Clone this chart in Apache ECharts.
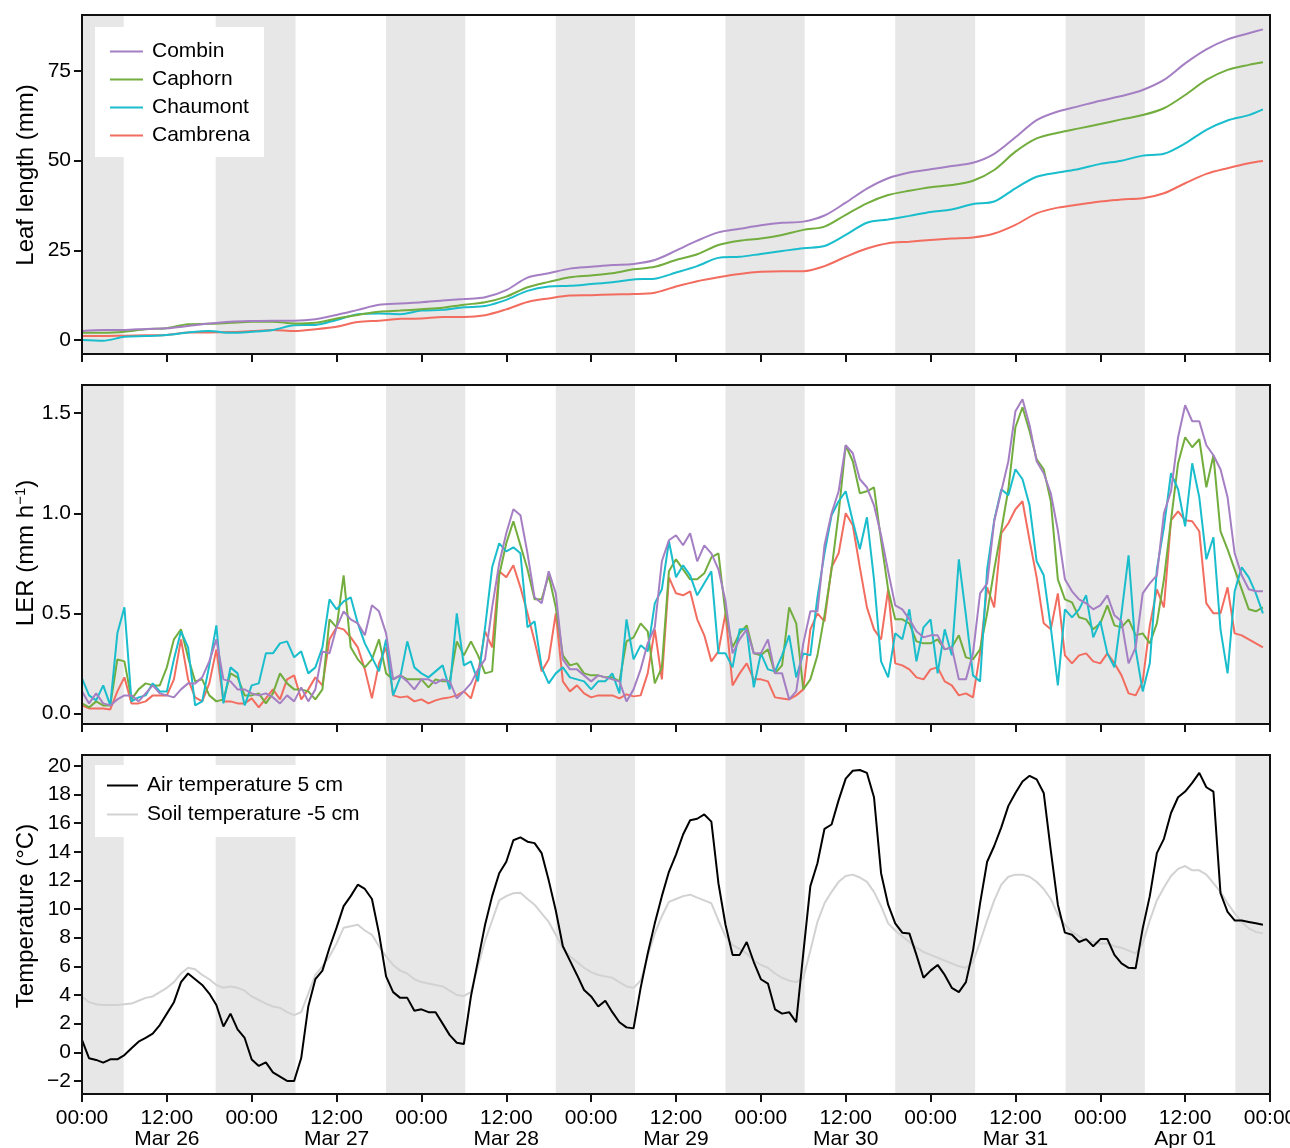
<!DOCTYPE html>
<html>
<head>
<meta charset="utf-8">
<script src="https://cdn.jsdelivr.net/npm/echarts@6/dist/echarts.min.js"></script>
<style>
html, body { margin: 0; padding: 0; background: #fff; }
#main { width: 1290px; height: 1148px; }
</style>
</head>
<body>
<div id="main"></div>
<script>
// x axis: hours since Mar 26 00:00
var dayLabels = ['Mar 26', 'Mar 27', 'Mar 28', 'Mar 29', 'Mar 30', 'Mar 31', 'Apr 01'];
var nights = [[0, 5.9], [18.9, 30.2], [43, 54.2], [67, 78.2], [91, 102.2], [115, 126.3], [139.1, 150.3], [163.1, 168]];

// leaf length (mm), read every 3 h
var llHours = [0,3,6,9,12,15,18,21,24,27,30,33,36,39,42,45,48,51,54,57,60,63,66,69,72,75,78,81,84,87,90,93,96,99,102,105,108,111,114,117,120,123,126,129,132,135,138,141,144,147,150,153,156,159,162,165,167];
var llCombin = [2.5,2.8,2.8,3.1,3.25,3.9,4.6,5.1,5.3,5.4,5.4,5.8,7.0,8.4,9.8,10.2,10.5,11.0,11.4,11.9,13.9,17.4,18.6,19.9,20.4,20.9,21.2,22.3,24.9,27.7,30.0,31.0,32.0,32.7,33.0,34.7,38.3,42.2,45.1,46.7,47.6,48.5,49.4,51.9,56.5,61.3,63.7,65.2,66.7,68.0,69.7,72.5,77.1,81.0,83.8,85.5,86.6];
var llCaphorn = [2.0,2.0,2.3,3.0,3.3,4.4,4.5,4.8,5.1,5.1,4.6,4.8,6.0,7.0,7.9,8.2,8.6,9.0,9.85,10.5,12.1,14.7,16.2,17.5,18.0,18.6,19.7,20.4,22.3,23.9,26.5,27.7,28.3,29.3,30.7,31.6,34.9,38.1,40.4,41.6,42.6,43.2,44.4,47.4,52.5,56.2,57.8,59.0,60.2,61.5,62.7,64.6,68.3,72.5,75.3,76.7,77.4];
var llChaumont = [0,-0.2,0.9,1.1,1.4,2.1,2.5,2.0,2.3,2.8,4.1,4.2,5.6,7.2,7.4,7.2,8.2,8.4,9.1,9.5,11.2,13.7,14.9,15.1,15.6,16.1,16.9,17.1,18.8,20.6,22.9,23.2,24.0,24.8,25.6,26.2,29.3,32.7,33.6,34.6,35.7,36.4,37.9,38.6,42.3,45.5,46.7,47.7,49.1,50.0,51.4,51.9,54.8,58.6,61.2,62.7,64.3];
var llCambrena = [1.1,1.1,1.2,1.3,1.4,2.1,2.1,2.2,2.5,2.8,2.5,3.0,3.7,5.0,5.4,5.9,6.0,6.4,6.4,6.9,8.55,10.6,11.6,12.4,12.5,12.7,12.8,13.2,14.9,16.4,17.5,18.4,19.0,19.2,19.2,20.6,23.2,25.5,27.0,27.4,27.9,28.3,28.6,29.7,32.1,35.3,36.9,37.8,38.6,39.2,39.5,40.9,43.7,46.3,47.9,49.3,49.9];

// LER (mm h-1), hourly
var lerCombin = [
  .11,.05,.10,.05,.04,.07,.09,.09,.06,.10,.14,.10,
  .09,.08,.12,.15,.15,.18,.26,.37,.17,.16,.12,.12,
  .10,.09,.10,.08,.05,.09,.06,.13,.06,.12,.31,.30,
  .43,.51,.47,.45,.39,.54,.51,.40,.17,.19,.16,.12,
  .17,.17,.15,.17,.16,.075,.11,.15,.22,.27,.53,.75,
  .90,1.02,.99,.80,.58,.55,.71,.60,.27,.22,.22,.19,
  .16,.19,.18,.17,.16,.06,.12,.22,.35,.43,.76,.865,
  .89,.84,.90,.76,.84,.80,.72,.56,.30,.37,.42,.30,
  .30,.37,.20,.20,.07,.11,.35,.51,.51,.84,1.00,1.11,
  1.34,1.30,1.17,1.13,1.04,.89,.71,.54,.52,.47,.41,.38,
  .39,.39,.32,.33,.17,.17,.30,.60,.65,.96,1.11,1.26,
  1.51,1.57,1.44,1.26,1.20,1.10,.915,.67,.61,.57,.55,.52,
  .54,.59,.49,.46,.25,.33,.60,.65,.69,1.00,1.11,1.38,
  1.54,1.46,1.46,1.34,1.29,1.22,1.08,.80,.69,.62,.61,.61];
var lerCaphorn = [
  .05,.03,.06,.04,.04,.27,.26,.07,.12,.15,.14,.14,
  .23,.37,.42,.28,.16,.17,.09,.06,.07,.20,.18,.09,
  .09,.10,.05,.10,.20,.15,.12,.12,.11,.07,.12,.47,
  .43,.69,.33,.27,.23,.27,.37,.20,.17,.19,.17,.17,
  .17,.13,.17,.16,.16,.36,.29,.36,.29,.20,.21,.69,
  .85,.96,.84,.72,.57,.57,.69,.53,.29,.24,.25,.20,
  .19,.19,.18,.18,.16,.36,.38,.45,.41,.15,.23,.71,
  .77,.72,.67,.67,.70,.78,.80,.50,.33,.40,.44,.30,
  .29,.32,.20,.24,.53,.45,.12,.17,.29,.49,.72,1.00,
  1.34,1.26,1.10,1.11,1.13,.865,.62,.47,.47,.45,.36,.35,
  .35,.37,.32,.33,.39,.28,.27,.32,.50,.72,.915,1.12,
  1.43,1.53,1.41,1.27,1.22,1.06,.67,.57,.555,.48,.47,.42,
  .45,.54,.44,.43,.47,.39,.40,.35,.45,.67,.965,1.25,
  1.38,1.33,1.37,1.13,1.29,.91,.82,.72,.62,.52,.51,.53];
var lerChaumont = [
  .175,.09,.065,.14,.04,.40,.53,.06,.08,.09,.15,.11,
  .11,.27,.41,.33,.04,.06,.24,.44,.05,.23,.20,.04,
  .14,.15,.30,.30,.35,.36,.28,.31,.20,.23,.33,.57,
  .52,.56,.58,.45,.35,.28,.21,.37,.09,.18,.36,.23,
  .20,.18,.21,.24,.12,.50,.24,.26,.16,.43,.73,.85,
  .81,.83,.80,.43,.46,.23,.15,.20,.23,.18,.17,.16,
  .12,.16,.16,.20,.10,.47,.27,.34,.31,.55,.62,.86,
  .68,.74,.69,.59,.65,.71,.30,.30,.23,.42,.42,.13,
  .30,.22,.21,.29,.39,.18,.30,.29,.58,.80,.99,1.06,
  1.11,.96,.82,.98,.67,.26,.18,.40,.37,.52,.26,.43,
  .47,.20,.42,.29,.77,.49,.19,.16,.72,.965,1.12,1.09,
  1.22,1.17,1.04,.76,.69,.43,.14,.52,.48,.52,.59,.38,
  .46,.30,.23,.50,.79,.32,.11,.25,.72,.93,1.20,1.12,
  .935,1.25,1.08,.77,.88,.42,.20,.61,.73,.68,.60,.50];
var lerCambrena = [
  .04,.025,.025,.025,.02,.11,.18,.05,.05,.06,.09,.09,
  .09,.17,.37,.17,.08,.06,.15,.32,.06,.06,.05,.05,
  .075,.03,.075,.12,.07,.17,.19,.07,.12,.18,.14,.37,
  .43,.42,.38,.33,.22,.075,.25,.33,.09,.08,.085,.06,
  .07,.05,.065,.075,.08,.09,.11,.075,.20,.41,.33,.71,
  .68,.74,.63,.50,.36,.21,.27,.50,.16,.11,.14,.10,
  .08,.09,.09,.09,.075,.095,.085,.09,.20,.42,.17,.68,
  .60,.59,.61,.47,.39,.26,.31,.50,.14,.20,.25,.17,
  .17,.16,.08,.075,.07,.09,.12,.42,.50,.46,.73,.80,
  1.00,.94,.73,.53,.42,.37,.62,.25,.24,.22,.18,.17,
  .22,.23,.16,.14,.09,.10,.08,.30,.63,.53,.90,.95,
  1.02,1.06,.865,.68,.45,.42,.60,.29,.25,.29,.30,.26,
  .25,.30,.25,.19,.10,.09,.16,.44,.62,.53,.965,1.01,
  .965,.96,.91,.55,.50,.50,.63,.40,.39,.37,.35,.33];

// temperature (°C), hourly
var airTemp = [
  .86,-.42,-.53,-.72,-.49,-.49,-.19,.28,.74,1.0,1.3,1.9,
  2.7,3.5,4.9,5.5,5.1,4.7,4.1,3.3,1.8,2.7,1.6,1.0,
  -.5,-.95,-.7,-1.4,-1.7,-2.0,-2.0,-.4,3.2,5.1,5.7,7.3,
  8.7,10.2,10.9,11.7,11.4,10.7,8.3,5.3,4.2,3.8,3.8,2.9,
  3.0,2.8,2.8,2.0,1.2,.67,.58,3.9,6.4,8.9,10.9,12.5,
  13.3,14.8,15.0,14.7,14.6,13.9,12.0,9.9,7.4,6.4,5.4,4.35,
  3.9,3.2,3.6,2.8,2.1,1.74,1.67,4.5,6.9,9.0,10.9,12.6,
  13.8,15.2,16.2,16.3,16.6,16.1,11.8,8.9,6.8,6.8,7.7,6.3,
  5.1,4.8,3.0,2.7,2.8,2.1,6.9,11.6,13.2,15.6,15.9,17.6,
  19.1,19.65,19.7,19.5,17.8,12.5,10.3,9.0,8.35,8.3,6.8,5.2,
  5.7,6.1,5.4,4.5,4.2,4.9,7.1,10.4,13.3,14.4,15.7,17.2,
  18.1,18.9,19.3,19.05,18.1,14.1,10.3,8.35,8.2,7.7,7.9,7.4,
  7.9,7.9,6.8,6.2,5.9,5.86,8.65,10.9,13.9,14.9,16.7,17.8,
  18.2,18.8,19.5,18.5,18.2,11.1,9.8,9.2,9.2,9.1,9.0,8.9];
var soilTemp = [
  3.9,3.5,3.35,3.3,3.3,3.3,3.35,3.4,3.6,3.8,3.9,4.2,
  4.5,4.9,5.5,5.9,5.8,5.4,5.1,4.7,4.5,4.6,4.5,4.3,
  3.9,3.65,3.4,3.2,3.1,2.8,2.6,2.8,4.1,5.4,6.0,6.7,
  7.6,8.7,8.8,8.9,8.5,8.2,7.4,6.7,6.1,5.7,5.5,5.1,
  4.9,4.8,4.7,4.6,4.3,4.0,3.93,4.2,6.0,7.8,9.2,10.6,
  10.9,11.1,11.14,10.7,10.3,9.7,9.1,8.2,7.3,6.7,6.3,5.9,
  5.6,5.4,5.3,5.2,4.9,4.6,4.5,5.0,6.7,8.3,9.5,10.5,
  10.7,10.9,11.0,10.8,10.6,10.4,9.2,8.1,7.5,7.2,6.9,6.4,
  6.1,5.9,5.5,5.2,5.0,4.9,5.2,7.1,9.1,10.4,11.2,11.9,
  12.3,12.4,12.2,11.9,11.2,10.2,9.0,8.5,8.1,7.7,7.3,7.0,
  6.8,6.6,6.4,6.2,6.0,5.9,6.3,7.7,9.2,10.6,11.7,12.25,
  12.4,12.4,12.25,11.9,11.4,10.7,9.6,8.9,8.4,8.1,7.8,7.7,
  7.6,7.6,7.4,7.3,7.1,6.9,7.6,9.2,10.6,11.5,12.3,12.8,
  13.0,12.7,12.7,12.4,11.8,11.2,10.4,9.7,9.1,8.65,8.4,8.3];

var hours = airTemp.map(function(v, i) { return i; });

var FONT = '"Liberation Sans", Arial, sans-serif';
var AX = '#111';
var colors = { Combin: '#a57fc3', Caphorn: '#72ad3e', Chaumont: '#19bdcc', Cambrena: '#f26d5f' };

function pairs(xs, ys) {
	return ys.map(function(v, i) { return [xs[i], v]; });
}

var tops = [15, 385, 755];
var yRanges = [[-3.9, 90.6], [-0.053, 1.641], [-2.91, 20.75]];
var yTicks = [[0, 25, 50, 75], [0, 0.5, 1, 1.5], [-2, 0, 2, 4, 6, 8, 10, 12, 14, 16, 18, 20]];
var yFmt = [
	function(v) { return String(v); },
	function(v) { return v.toFixed(1); },
	function(v) { return v < 0 ? '\u2212' + Math.abs(v) : String(v); }
];

var grids = [], xAxes = [], yAxes = [], series = [];
for (var i = 0; i < 3; i++) {
	grids.push({
		left: 82, right: 20, top: tops[i], height: 339, containLabel: false, outerBoundsMode: 'none',
		show: true, borderColor: AX, borderWidth: 2, backgroundColor: 'transparent', z: 3
	});
	xAxes.push({
		type: 'value', gridIndex: i, min: 0, max: 168, interval: 12, z: 3,
		axisLine: { show: true, onZero: false, lineStyle: { color: AX, width: 2 } },
		axisTick: { show: true, length: 8, lineStyle: { color: AX, width: 2 } },
		splitLine: { show: false },
		axisLabel: {
			show: i === 2, color: '#000', fontSize: 21, fontFamily: FONT, lineHeight: 21, margin: 14,
			showMinLabel: true, showMaxLabel: true, hideOverlap: false,
			formatter: function(v) {
				if (v % 24 === 0) return '00:00';
				return '12:00\n' + dayLabels[Math.floor(v / 24)];
			}
		}
	});
	yAxes.push({
		type: 'value', gridIndex: i, min: yRanges[i][0], max: yRanges[i][1], z: 3,
		axisLine: { show: true, onZero: false, lineStyle: { color: AX, width: 2 } },
		axisTick: { show: true, length: 8, customValues: yTicks[i], lineStyle: { color: AX, width: 2 } },
		splitLine: { show: false },
		axisLabel: { customValues: yTicks[i], formatter: yFmt[i], color: '#000', fontSize: 21, fontFamily: FONT, margin: 11 }
	});
	// night shading
	series.push({
		type: 'line', xAxisIndex: i, yAxisIndex: i, data: [], z: 1, silent: true,
		markArea: {
			silent: true,
			itemStyle: { color: '#e7e7e7' },
			data: nights.map(function(n) { return [{ xAxis: n[0] }, { xAxis: n[1] }]; })
		}
	});
}

function line(name, idx, xs, ys, color, smooth) {
	return {
		name: name, type: 'line', xAxisIndex: idx, yAxisIndex: idx,
		data: pairs(xs, ys), symbol: 'none', smooth: smooth || false, z: 2,
		lineStyle: { width: 2, color: color }, itemStyle: { color: color }
	};
}

series.push(line('Cambrena', 0, llHours, llCambrena, colors.Cambrena, 0.3));
series.push(line('Chaumont', 0, llHours, llChaumont, colors.Chaumont, 0.3));
series.push(line('Caphorn', 0, llHours, llCaphorn, colors.Caphorn, 0.3));
series.push(line('Combin', 0, llHours, llCombin, colors.Combin, 0.3));

series.push(line('Cambrena', 1, hours, lerCambrena, colors.Cambrena));
series.push(line('Caphorn', 1, hours, lerCaphorn, colors.Caphorn));
series.push(line('Chaumont', 1, hours, lerChaumont, colors.Chaumont));
series.push(line('Combin', 1, hours, lerCombin, colors.Combin));

series.push(line('Soil temperature -5 cm', 2, hours, soilTemp, '#d2d2d2'));
series.push(line('Air temperature 5 cm', 2, hours, airTemp, '#000'));

var legendText = { fontSize: 21, fontFamily: FONT, color: '#000', lineHeight: 21, padding: [0, 0, 0, 4] };

var option = {
	animation: false,
	backgroundColor: '#fff',
	grid: grids,
	xAxis: xAxes,
	yAxis: yAxes,
	legend: [{
		data: ['Combin', 'Caphorn', 'Chaumont', 'Cambrena'],
		orient: 'vertical', left: 95, top: 27, z: 5,
		backgroundColor: '#fff', padding: [14, 14, 11, 15],
		icon: 'rect', itemWidth: 33, itemHeight: 2, itemGap: 7,
		selectedMode: false, textStyle: legendText
	}, {
		data: ['Air temperature 5 cm', 'Soil temperature -5 cm'],
		orient: 'vertical', left: 95, top: 765, z: 5,
		backgroundColor: '#fff', padding: [10, 14, 12, 12],
		icon: 'rect', itemWidth: 31, itemHeight: 2, itemGap: 8,
		selectedMode: false, textStyle: legendText
	}],
	graphic: [{
		type: 'text', x: 26, y: 175, rotation: Math.PI / 2,
		style: { text: 'Leaf length (mm)', font: '24px ' + FONT, fill: '#000', textAlign: 'center', textVerticalAlign: 'middle' }
	}, {
		type: 'text', x: 26, y: 553, rotation: Math.PI / 2,
		style: {
			text: 'LER (mm h{s|\u22121})', font: '24px ' + FONT, fill: '#000', textAlign: 'center', textVerticalAlign: 'middle',
			rich: { s: { fontSize: 15, fontFamily: FONT, fill: '#000', verticalAlign: 'top', padding: [0, 0, 10, 0] } }
		}
	}, {
		type: 'text', x: 26, y: 916, rotation: Math.PI / 2,
		style: { text: 'Temperature (\u00b0C)', font: '24px ' + FONT, fill: '#000', textAlign: 'center', textVerticalAlign: 'middle' }
	}],
	series: series
};

var chart = echarts.init(document.getElementById('main'));
chart.setOption(option);
</script>
</body>
</html>
